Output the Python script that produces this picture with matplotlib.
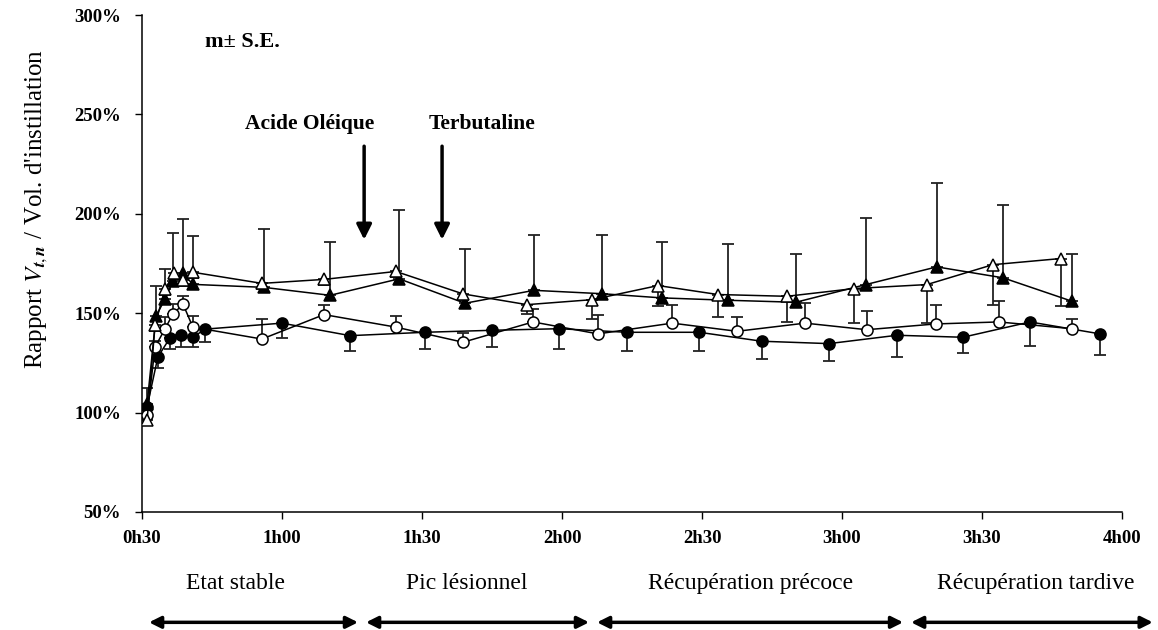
import matplotlib
matplotlib.use("Agg")
import matplotlib.pyplot as plt
import matplotlib.transforms as mtransforms
import numpy as np

# ---------------- data (minutes, %) ----------------
fc_x = [31.1, 33.4, 36.0, 38.4, 40.9, 43.6, 60.0, 74.6, 90.6, 105.0, 119.4, 133.9, 149.4, 162.8, 177.2, 191.8, 205.9, 220.3, 235.3]
fc_y = [103, 128, 137.6, 139, 138, 142, 145, 138.7, 140.4, 141.4, 142.2, 140.4, 140.4, 135.9, 134.7, 138.9, 137.9, 145.6, 139.6]
fc_lo = [5, 5.4, 5.6, 6, 5, 6.3, 7.4, 7.7, 8.4, 8.4, 10, 9.4, 9.4, 8.9, 8.9, 10.9, 7.9, 12.2, 10.6]

oc_x = [31.1, 32.8, 34.9, 36.6, 38.8, 40.9, 55.7, 69.0, 84.4, 98.8, 113.8, 127.7, 143.6, 157.5, 172.1, 185.3, 200.1, 213.6, 229.3]
oc_y = [99, 133, 142, 149.5, 154.5, 143, 137, 149.3, 143, 135.4, 145.6, 139.6, 145, 140.9, 145, 141.7, 144.6, 145.6, 142.2]
oc_up = [3, 3, 6, 5, 4, 5.5, 10, 5, 5.4, 4.6, 6.4, 9.4, 9, 7.1, 10, 9.3, 9.4, 10.4, 5]

ft_x = [31.1, 33.0, 34.9, 36.6, 38.8, 40.9, 56.1, 70.3, 85.1, 99.2, 114.0, 128.6, 141.4, 155.6, 170.1, 185.1, 200.3, 214.5, 229.3]
ft_y = [104.5, 148.5, 157, 166, 170, 164.5, 163, 159, 167.3, 155, 161.5, 159.8, 157.7, 156.5, 155.5, 164.4, 173.3, 167.8, 156]
ft_up = [8, 15, 15, 24.4, 27.6, 24.2, 29.4, 27, 34.4, 27.5, 28, 29.6, 28.3, 28.5, 24.5, 33.6, 42.2, 36.8, 23.8]

ot_x = [31.1, 32.8, 34.9, 36.9, 38.8, 40.9, 55.7, 69.0, 84.4, 98.8, 112.5, 126.4, 140.6, 153.4, 168.2, 182.6, 198.2, 212.3, 226.9]
ot_y = [96.5, 144, 162, 170, 166.5, 170.6, 165, 167, 171, 159.7, 154.3, 156.8, 163.9, 159.4, 158.5, 162.4, 164.4, 174.4, 177.5]
ot_lo = [2.5, 3, 3, 3, 3, 3, 3, 3, 3, 3, 4.5, 9.8, 10.4, 11.4, 12.9, 17.4, 19.4, 20.4, 24]

x_ticks = [30, 60, 90, 120, 150, 180, 210, 240]
x_labels = ["0h30", "1h00", "1h30", "2h00", "2h30", "3h00", "3h30", "4h00"]
y_ticks = [50, 100, 150, 200, 250, 300]
y_labels = ["50%", "100%", "150%", "200%", "250%", "300%"]

events = ["Acide Oléique", "Terbutaline"]
event_x = [77.6, 94.3]
event_label_x = [66.0, 102.9]

phases = ["Etat stable", "Pic lésionnel", "Récupération précoce", "Récupération tardive"]
phase_center = [50.1, 99.5, 160.5, 221.5]
phase_start = [31.5, 78.0, 127.5, 194.8]
phase_end = [76.3, 125.8, 193.1, 246.6]

# ---------------- figure ----------------
plt.rcParams['font.family'] = ['Liberation Serif', 'DejaVu Serif']
plt.rcParams['mathtext.fontset'] = 'stix'

fig = plt.figure(figsize=(11.58, 6.30), dpi=100)
ax = fig.add_axes([142/1158, 1-512/630, (1122-142)/1158, (512-15)/630])

ebkw = dict(fmt='none', ecolor='#222222', elinewidth=1.3, capsize=4.5, capthick=1.3, zorder=2)
ax.errorbar(fc_x, fc_y, yerr=[fc_lo, np.zeros(len(fc_lo))], **ebkw)
ax.errorbar(oc_x, oc_y, yerr=[np.zeros(len(oc_up)), oc_up], **ebkw)
ax.errorbar(ft_x, ft_y, yerr=[np.zeros(len(ft_up)), ft_up], **ebkw)
ax.errorbar(ot_x, ot_y, yerr=[ot_lo, np.zeros(len(ot_lo))], **ebkw)

lkw = dict(color='black', lw=1.1, mec='black', mew=1.1, zorder=3)
ax.plot(fc_x, fc_y, marker='o', ms=8, mfc='black', **lkw)
ax.plot(oc_x, oc_y, marker='o', ms=8, mfc='white', **lkw)
ax.plot(ft_x, ft_y, marker='^', ms=9, mfc='black', **lkw)
ax.plot(ot_x, ot_y, marker='^', ms=9, mfc='white', **lkw)

ax.set_xlim(30, 240)
ax.set_ylim(50, 300)
ax.set_xticks(x_ticks)
ax.set_xticklabels(x_labels, fontsize=13.5, fontweight='bold')
ax.set_yticks(y_ticks)
ax.set_yticklabels(y_labels, fontsize=13.5, fontweight='bold')
ax.tick_params(direction='out', length=5, width=1)
ax.tick_params(axis='x', pad=8)
ax.tick_params(axis='y', pad=10)
for s in ['top', 'right']:
    ax.spines[s].set_visible(False)
for s in ['left', 'bottom']:
    ax.spines[s].set_linewidth(1.1)

ax.set_ylabel("Rapport $\\mathit{V}_{\\boldsymbol{t,n}}$ / Vol. d'instillation", fontsize=18)
ax.yaxis.set_label_coords(-0.094, 0.61)

ax.text(43.5, 286.5, "m± S.E.", fontsize=16, fontweight='bold', ha='left', va='center')

for lab, ex, lx in zip(events, event_x, event_label_x):
    ax.text(lx, 245, lab, fontsize=15.5, fontweight='bold', ha='center', va='center')
    ax.annotate('', xy=(ex, 187), xytext=(ex, 234),
                arrowprops=dict(arrowstyle='-|>,head_length=0.9,head_width=0.45', lw=2.5, color='black',
                                shrinkA=0, shrinkB=0))

trans = mtransforms.blended_transform_factory(ax.transData, ax.transAxes)
for lab, c, s, e in zip(phases, phase_center, phase_start, phase_end):
    ax.text(c, -0.143, lab, transform=trans, fontsize=17, ha='center', va='center', clip_on=False)
    ax.annotate('', xy=(s, -0.222), xytext=(e, -0.222), xycoords=trans, textcoords=trans,
                arrowprops=dict(arrowstyle='<|-|>,head_length=0.7,head_width=0.35', lw=2.5, color='black',
                                shrinkA=0, shrinkB=0), annotation_clip=False)

fig.savefig("out.png", dpi=100)
